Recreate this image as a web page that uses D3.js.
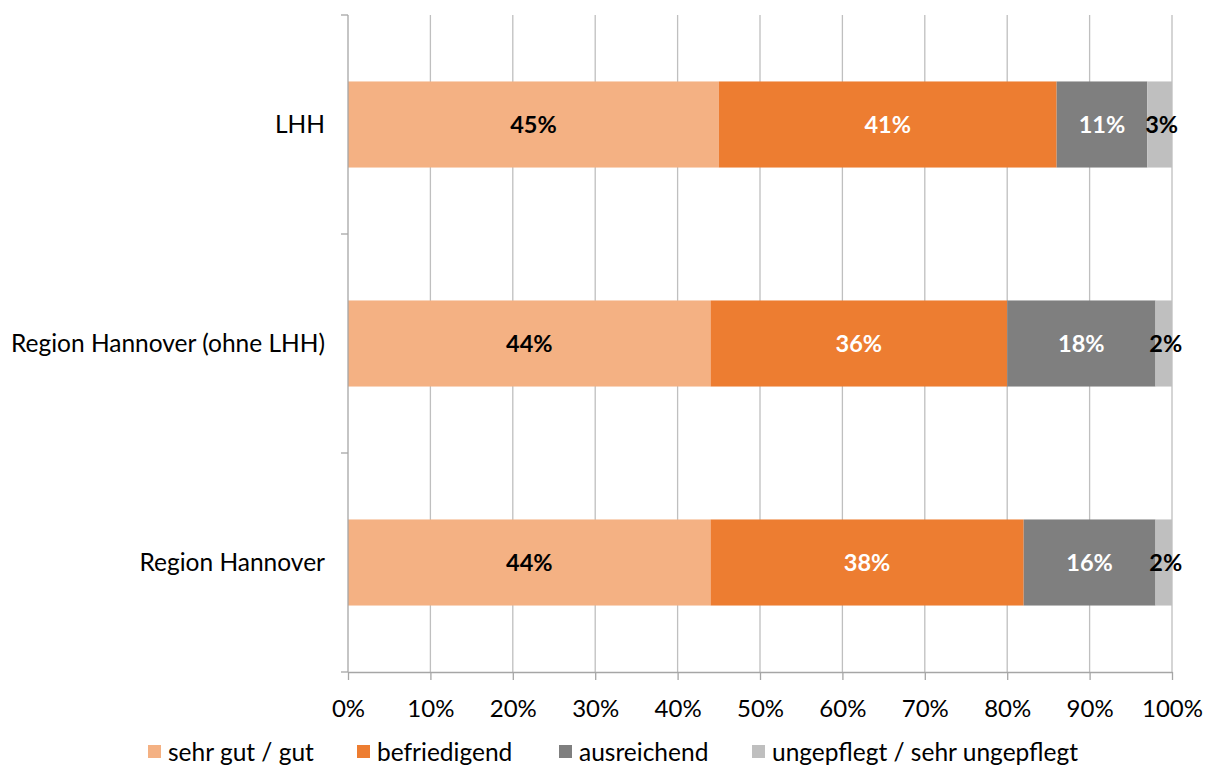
<!DOCTYPE html>
<html><head><meta charset="utf-8">
<script src="https://cdn.jsdelivr.net/npm/d3@7"></script>
<style>body{margin:0;background:#fff}svg{display:block}text{font-family:Lato,"Open Sans",sans-serif}</style>
</head><body>
<svg id="c" width="1212" height="767"></svg>
<script>
const categories = ["LHH", "Region Hannover (ohne LHH)", "Region Hannover"];
const seriesNames = ["sehr gut / gut", "befriedigend", "ausreichend", "ungepflegt / sehr ungepflegt"];
const sehrGut = [45, 44, 44];
const befriedigend = [41, 36, 38];
const ausreichend = [11, 18, 16];
const ungepflegt = [3, 2, 2];
const tickValues = [0,10,20,30,40,50,60,70,80,90,100];
const colors = ["#F4B183", "#ED7D31", "#7F7F7F", "#BFBFBF"];
const labelColors = ["#000", "#fff", "#fff", "#000"];

const series = [sehrGut, befriedigend, ausreichend, ungepflegt];
const svg = d3.select("#c");
const L = 348, R = 1172, T = 15, B = 672;
const x = d3.scaleLinear().domain([0,100]).range([L,R]);
const y = d3.scaleBand().domain(categories).range([T,B]).paddingInner(0.607).paddingOuter(0.3035);
const yb = d3.scaleBand().domain(categories).range([T,B]);

// grid
svg.append("g").selectAll("line").data(tickValues.slice(1)).join("line")
  .attr("x1", d=>x(d)).attr("x2", d=>x(d)).attr("y1", T).attr("y2", B)
  .attr("stroke", "#BFBFBF").attr("stroke-width", 1.3);

// bars
const rows = categories.map((c,i)=>{
  let acc = 0;
  return series.map((s,k)=>{ const v=s[i]; const r={cat:c,k,v,x0:acc,x1:acc+v}; acc+=v; return r; });
}).flat();
svg.append("g").selectAll("rect").data(rows).join("rect")
  .attr("x", d=>x(d.x0)).attr("width", d=>x(d.x1)-x(d.x0))
  .attr("y", d=>y(d.cat)).attr("height", y.bandwidth())
  .attr("fill", d=>colors[d.k]);

svg.append("g").selectAll("text").data(rows).join("text")
  .attr("x", d=> d.k===3 ? x(d.x0)+ (x(d.x1)-x(d.x0))/2 + 2 : (x(d.x0)+x(d.x1))/2)
  .attr("y", d=>y(d.cat)+y.bandwidth()/2)
  .attr("dy", "0.36em").attr("text-anchor","middle")
  .attr("font-size", 23.5).attr("font-weight", "bold")
  .attr("fill", d=>labelColors[d.k]).text(d=>d.v+"%");

// axes
const xAxis = d3.axisBottom(x).tickValues(tickValues).tickFormat(d=>d+"%").tickSize(8).tickSizeOuter(0);
const gx = svg.append("g").attr("transform",`translate(0,${B})`).call(xAxis);
gx.select(".domain").attr("stroke","#A6A6A6").attr("stroke-width",1.3);
gx.selectAll(".tick line").attr("stroke","#A6A6A6").attr("stroke-width",1.3);
gx.selectAll(".tick text").attr("font-size",24).attr("fill","#000").attr("y",36).attr("dy","0.36em")
  .style("font-family","Lato, 'Open Sans', sans-serif");

// left axis line and category boundary ticks
svg.append("line").attr("x1",L).attr("x2",L).attr("y1",T).attr("y2",B).attr("stroke","#A6A6A6").attr("stroke-width",1.3);
const bounds = categories.map(c=>yb(c)).concat([B]);
svg.append("g").selectAll("line").data(bounds).join("line")
  .attr("x1",L-7).attr("x2",L).attr("y1",d=>d).attr("y2",d=>d).attr("stroke","#A6A6A6").attr("stroke-width",1.3);
svg.append("g").selectAll("text").data(categories).join("text")
  .attr("x", 325).attr("y", d=>yb(d)+yb.bandwidth()/2).attr("dy","0.36em")
  .attr("text-anchor","end").attr("font-size",24.5).attr("fill","#000").text(d=>d);

// legend
const legX = [148, 357, 559, 752];
const lg = svg.append("g").selectAll("g").data(seriesNames).join("g")
  .attr("transform",(d,i)=>`translate(${legX[i]},752)`);
lg.append("rect").attr("x",0).attr("y",-7).attr("width",13).attr("height",13).attr("fill",(d,i)=>colors[i]);
lg.append("text").attr("x",20).attr("y",0).attr("dy","0.36em").attr("font-size",24.5).attr("fill","#000").text(d=>d);
</script>
</body></html>
